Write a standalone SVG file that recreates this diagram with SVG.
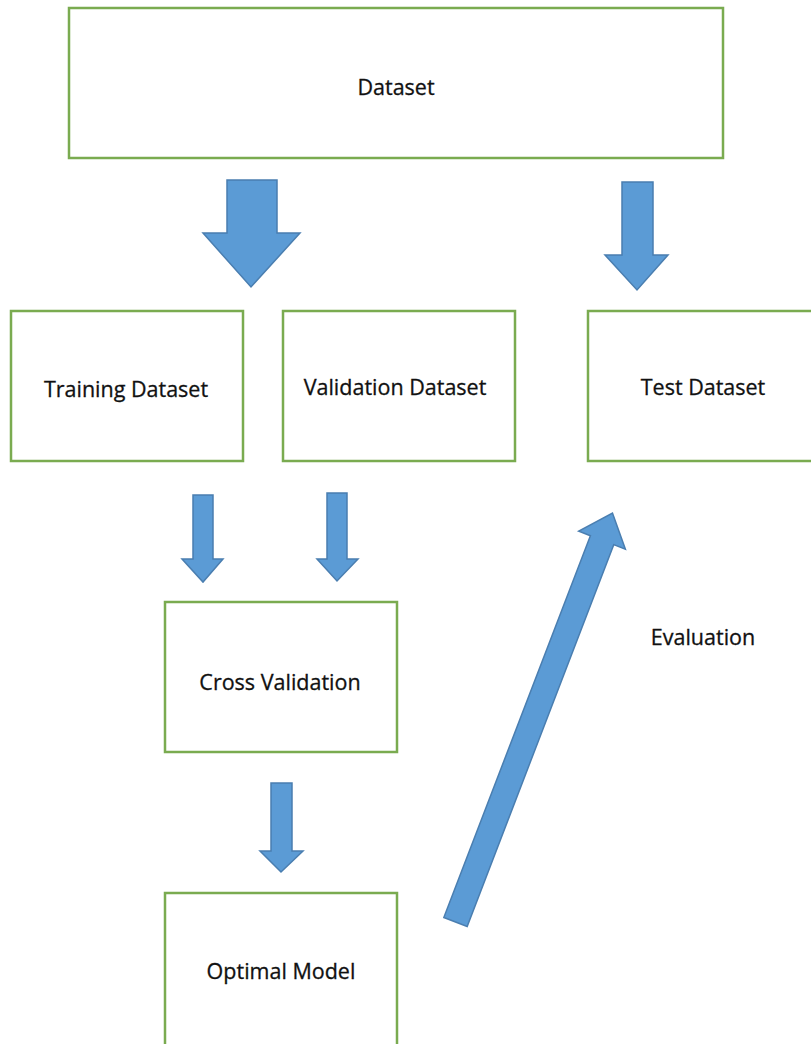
<svg xmlns="http://www.w3.org/2000/svg" width="811" height="1044" viewBox="0 0 811 1044">
<style>
.box{fill:#fff;stroke:#7aab50;stroke-width:2.5}
.lbl{font-family:"Open Sans","Noto Sans",sans-serif;font-size:21.5px;fill:#111;stroke:#111;stroke-width:0.3;text-anchor:middle;dominant-baseline:central}
.arr{fill:#5b9bd5;stroke:#4a7eb0;stroke-width:1.5;stroke-linejoin:miter}
</style>
<rect width="811" height="1044" fill="#fff"/>
<g id="dataset"><rect class="box" x="69" y="8" width="654" height="150"/><text class="lbl" x="396" y="86">Dataset</text></g>
<g id="training"><rect class="box" x="11" y="311" width="232" height="150"/><text class="lbl" x="126" y="388">Training Dataset</text></g>
<g id="validation"><rect class="box" x="283" y="311" width="232" height="150"/><text class="lbl" x="395" y="386">Validation Dataset</text></g>
<g id="test"><rect class="box" x="588" y="311" width="230" height="150"/><text class="lbl" x="703" y="386">Test Dataset</text></g>
<g id="cross"><rect class="box" x="165" y="602" width="232" height="150"/><text class="lbl" x="280" y="681">Cross Validation</text></g>
<g id="optimal"><rect class="box" x="165" y="893" width="232" height="160"/><text class="lbl" x="281" y="970">Optimal Model</text></g>
<g id="evaluation-label"><text class="lbl" x="703" y="636">Evaluation</text></g>
<g id="connectors">
<polygon class="arr" points="227,180 277,180 277,233 300,233 251,287 203,233 227,233"/>
<polygon class="arr" points="622,182 653,182 653,255 668,255 637,290 605,255 622,255"/>
<polygon class="arr" points="193,495 213,495 213,559 223,559 203,582 182,559 193,559"/>
<polygon class="arr" points="327,493 347,493 347,559 358,559 337,581 317,559 327,559"/>
<polygon class="arr" points="271,783 292,783 292,851 303,851 281,872 260,851 271,851"/>
<polygon class="arr" transform="translate(455.5,922) rotate(21)" points="-12.5,0 12.5,0 12.5,-409 25,-409 0,-438 -25,-409 -12.5,-409"/>
</g>
</svg>
